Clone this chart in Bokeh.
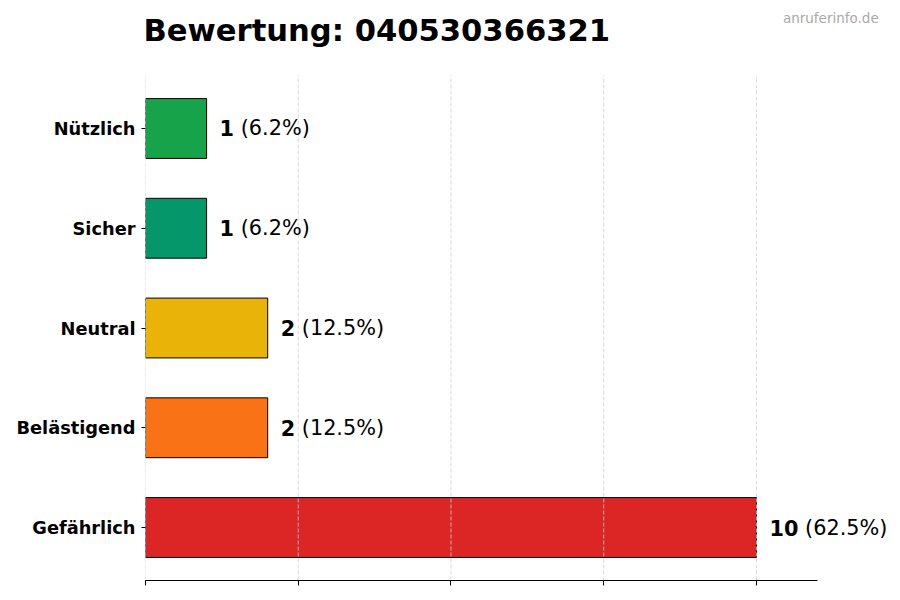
from bokeh.core.properties import value
from bokeh.embed import file_html
from bokeh.models import (ColumnDataSource, FixedTicker, Label, LabelSet,
                          Range1d)
from bokeh.plotting import figure
from bokeh.resources import INLINE

# categories from bottom to top
categories = ["Gefährlich", "Belästigend", "Neutral", "Sicher", "Nützlich"]
counts = [10, 2, 2, 1, 1]
colors = ["#dc2626", "#f97316", "#eab308", "#059669", "#16a34a"]
x_ticks = [0, 2.5, 5, 7.5, 10]

ypos = list(range(len(categories)))
total = sum(counts)
pcts = ["(%.1f%%)" % (c / total * 100) for c in counts]
num_txt = [str(c) for c in counts]
# the percentage starts after the bold number and a space
pct_off = [13 + 14.5 * len(t) + 6.6 for t in num_txt]

src = ColumnDataSource(data=dict(y=ypos, count=counts, color=colors,
                                 num=num_txt, pct=pcts, pct_off=pct_off))

FONT = "DejaVu Sans"
Y_LO, Y_HI = -0.531, 4.531   # extent of the category area

# the frame fills the canvas up and right, so title, watermark and value
# labels are drawn inside it; the x axis line stops at 11
p = figure(x_range=Range1d(0, 12.275), y_range=Range1d(Y_LO, 5.283),
           width=900, height=600, output_backend="svg",
           toolbar_location=None,
           min_border_left=145, min_border_right=5,
           min_border_top=0, min_border_bottom=20)
p.outline_line_color = None

p.hbar(y="y", right="count", left=0, height=0.6, source=src,
       fill_color="color", line_color="black", line_width=1)

# dashed vertical grid over the bars
p.segment(x0=x_ticks, x1=x_ticks, y0=Y_LO, y1=Y_HI, line_color="#cfcfcf",
          line_dash="4 2", line_width=0.8)

p.add_layout(LabelSet(x="count", y="y", text="num", source=src, x_offset=13,
                      text_font=value(FONT), text_font_size="20.8px",
                      text_font_style="bold", text_baseline="middle",
                      text_color="black"))
p.add_layout(LabelSet(x="count", y="y", text="pct", source=src,
                      x_offset="pct_off", text_font=value(FONT),
                      text_font_size="20.8px", text_baseline="middle",
                      text_color="black"))

# axes
p.xaxis.bounds = (0, 11)
p.xaxis.ticker = FixedTicker(ticks=x_ticks)
p.xaxis.major_label_overrides = {t: "" for t in x_ticks}
p.xaxis.axis_line_color = "black"
p.xaxis.major_tick_line_color = "black"
p.xaxis.major_tick_out = 5
p.xaxis.major_tick_in = 0
p.xaxis.minor_tick_line_color = None

p.yaxis.ticker = FixedTicker(ticks=ypos)
p.yaxis.major_label_overrides = dict(zip(ypos, categories))
p.yaxis.axis_line_color = None
p.yaxis.major_tick_out = 4
p.yaxis.major_tick_in = 0
p.yaxis.minor_tick_line_color = None
p.yaxis.major_tick_line_color = "black"
p.yaxis.major_label_standoff = 6
p.yaxis.major_label_text_font = FONT
p.yaxis.major_label_text_font_size = "17.8px"
p.yaxis.major_label_text_font_style = "bold"
p.yaxis.major_label_text_color = "black"

p.xgrid.grid_line_color = None
p.ygrid.grid_line_color = None

# title and watermark
p.add_layout(Label(x=0, y=4.985, x_offset=-2, text="Bewertung: 040530366321",
                   text_font=FONT, text_font_size="30.6px",
                   text_font_style="bold", text_color="black",
                   text_baseline="alphabetic"))
p.add_layout(Label(x=12.0, y=5.103, text="anruferinfo.de",
                   text_align="right", text_baseline="alphabetic",
                   text_font=FONT, text_font_size="13.5px",
                   text_color="#aaaaaa"))

open("out.html", "w").write(file_html(p, INLINE))
